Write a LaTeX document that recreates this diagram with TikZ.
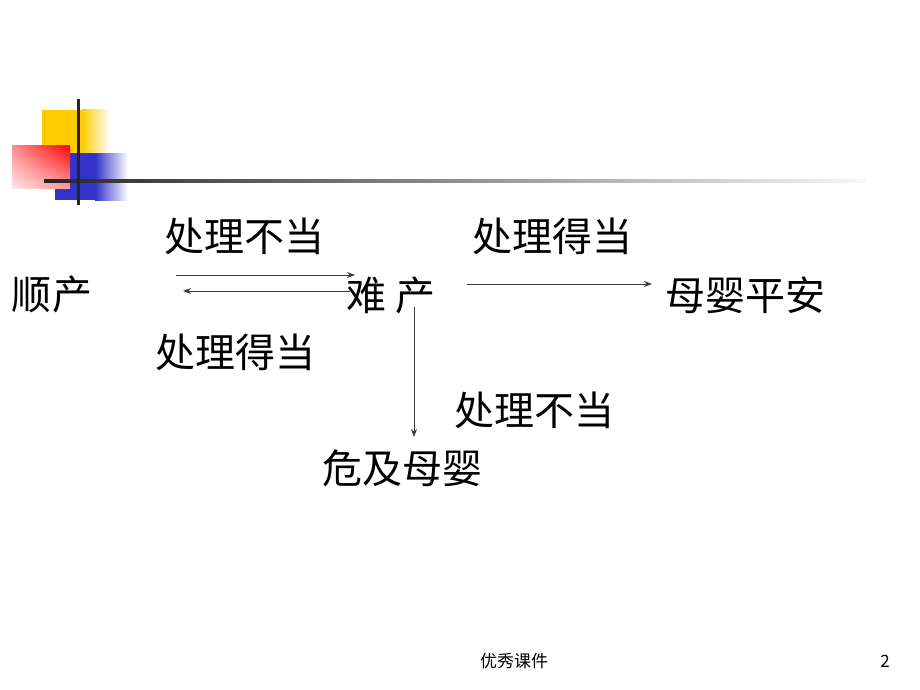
\documentclass[tikz,border=0pt]{standalone}
\usepackage{fontspec}
\setmainfont{Noto Sans CJK SC}
\newfontfamily\cjk{Noto Sans CJK SC}
\usetikzlibrary{arrows.meta,shadings}
\definecolor{decoyellow}{RGB}{255,204,0}
\definecolor{decored}{RGB}{255,0,0}
\definecolor{decoblue}{RGB}{51,51,204}
\definecolor{arrowgray}{RGB}{60,60,60}
\begin{document}
\begin{tikzpicture}[x=1pt,y=-1pt,
  lbl/.style={inner sep=0pt,font=\cjk\fontsize{40}{44}\selectfont,text=black},
  foot/.style={inner sep=0pt,font=\cjk\fontsize{17}{20}\selectfont,text=black},
  conn/.style={draw=arrowgray,line width=0.9pt,-{Stealth[length=8pt,width=6pt]}}]
\useasboundingbox (0,0) rectangle (920,690);
\fill[white] (0,0) rectangle (920,690);
% decoration
\fill[decoyellow] (42,110) rectangle (82,153);
\shade[left color=decoyellow,right color=white] (82,110) rectangle (110,153);
\fill[decoblue] (55,153) rectangle (95,200);
\shade[left color=decoblue,right color=white] (95,153) rectangle (128,200);
\shade[upper right=decored,upper left=decored!45,lower right=decored!40,lower left=decored!10] (12,145) rectangle (70,188);
\shade[left color=black!85,middle color=black!45,right color=black!3] (44,179.5) rectangle (866,182.5);
\fill[black!85] (76.5,99) rectangle (79.5,205);
% labels
\node[lbl] (t1) at (244,236) {处理不当};
\node[lbl] (t2) at (552,236) {处理得当};
\node[lbl] (sc) at (52,294) {顺产};
\node[lbl] (nc) at (391,295) {难\ 产};
\node[lbl] (my) at (745,295) {母婴平安};
\node[lbl] (t3) at (235,352) {处理得当};
\node[lbl] (t4) at (534,410) {处理不当};
\node[lbl] (wj) at (402,468) {危及母婴};
\node[foot] (ft) at (514,661) {优秀课件};
\node[foot] (pg) at (885,661) {2};
% connector end points
\coordinate (a1s) at (176,275);
\coordinate (a1e) at (355,275);
\coordinate (a2s) at (350,291);
\coordinate (a2e) at (183,291);
\coordinate (a3s) at (467,284);
\coordinate (a3e) at (652,284);
\coordinate (a4s) at (414,307);
\coordinate (a4e) at (414,437);
\draw[conn] (a1s) -- (a1e);
\draw[conn] (a2s) -- (a2e);
\draw[conn] (a3s) -- (a3e);
\draw[conn] (a4s) -- (a4e);
\end{tikzpicture}
\end{document}
